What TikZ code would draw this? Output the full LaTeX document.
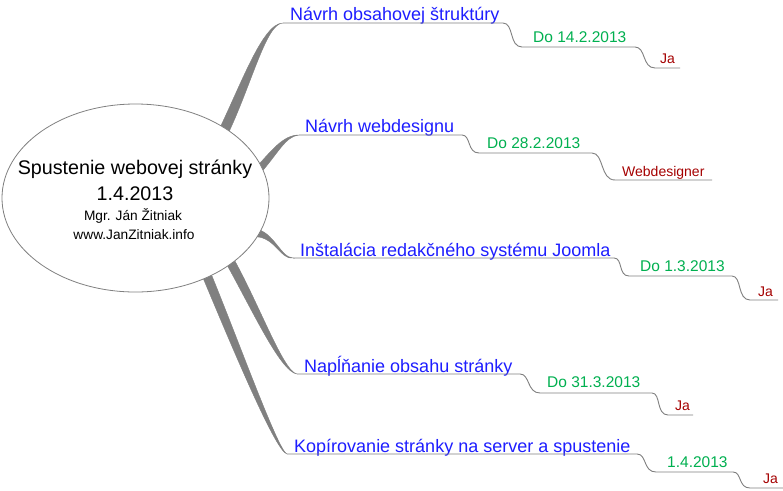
\documentclass[tikz,border=0pt]{standalone}
\usepackage{fontspec}
\setmainfont{Liberation Sans}
\usetikzlibrary{calc,shapes.geometric}
\definecolor{tblue}{RGB}{30,30,255}
\definecolor{tgreen}{RGB}{0,176,80}
\definecolor{tred}{RGB}{165,0,0}
\definecolor{lgray}{RGB}{128,128,128}
\tikzset{
  lvlone/.style={text=tblue,font=\fontsize{18}{20}\selectfont,inner sep=0pt,anchor=base west},
  lvltwo/.style={text=tgreen,font=\fontsize{15.5}{18}\selectfont,inner sep=0pt,anchor=base west},
  lvlthree/.style={text=tred,font=\fontsize{14}{16}\selectfont,inner sep=0pt,anchor=base west},
  connector/.style={draw=lgray,line width=0.9pt},
  branchfill/.style={fill=lgray,draw=lgray,line width=0.4pt},
  centre/.style={inner sep=0pt,anchor=base,text=black}
}
\newcommand{\mybranch}[6]{%
  \path[branchfill] (#1) .. controls (#2) and (#3) .. (#4)
     .. controls ($(#3)+(#5/3,#6/3)$) and ($(#2)+(#5,#6)$) .. ($(#1)+(#5,#6)$) -- cycle;}
\begin{document}
\begin{tikzpicture}[x=1pt,y=-1pt]
\useasboundingbox (0,0) rectangle (783,490);
\fill[white] (0,0) rectangle (783,490);

% branch end points
\coordinate (b1) at (283,23);
\coordinate (b2) at (299,135);
\coordinate (b3) at (293,258);
\coordinate (b4) at (297,374);
\coordinate (b5) at (287,454);

% tapered branches
\mybranch{214,140}{240,88}{262,23}{b1}{11}{0}
\mybranch{252,172}{272,150}{283,135}{b2}{6}{4}
\mybranch{250,229}{272,226}{280,258}{b3}{2}{8}
\mybranch{222,256}{250,305}{280,372}{b4}{9}{-2}
\mybranch{198,266}{225,330}{275,452}{b5}{9}{-2}

% central topic
\node[ellipse,draw=lgray,fill=white,line width=0.8pt,minimum width=267pt,minimum height=188pt,inner sep=0pt] (root) at (135.5,198) {};
\node[centre,font=\fontsize{19.7}{22}\selectfont] (title) at (135,174) {Spustenie webovej stránky};
\node[centre,font=\fontsize{19.7}{22}\selectfont] (rdate) at (135,200) {1.4.2013};
\node[centre,font=\fontsize{13.7}{16}\selectfont] (author) at (133,220) {Mgr. Ján Žitniak};
\node[centre,font=\fontsize{13.7}{16}\selectfont] (web) at (134,239) {www.JanZitniak.info};

% branch 1
\node[lvlone] (t1) at (290,20) {Návrh obsahovej štruktúry};
\node[lvltwo] (d1) at (533,42) {Do 14.2.2013};
\node[lvlthree] (p1) at (660,63) {Ja};
\coordinate (e1) at (680,68);
\draw[connector] (b1) -- (503,23) .. controls (514,23) and (509,47) .. (522,47) -- (635,47)
  .. controls (646,47) and (642,68) .. (655,68) -- (e1);

% branch 2
\node[lvlone] (t2) at (305,132) {Návrh webdesignu};
\node[lvltwo] (d2) at (487,148) {Do 28.2.2013};
\node[lvlthree] (p2) at (622,176) {Webdesigner};
\coordinate (e2) at (712,180);
\draw[connector] (b2) -- (462,135) .. controls (471,135) and (467,153) .. (479,153) -- (592,153)
  .. controls (604,153) and (600,180) .. (615,180) -- (e2);

% branch 3
\node[lvlone] (t3) at (300,256) {Inštalácia redakčného systému Joomla};
\node[lvltwo] (d3) at (640,271) {Do 1.3.2013};
\node[lvlthree] (p3) at (758,296) {Ja};
\coordinate (e3) at (778,300);
\draw[connector] (b3) -- (614,258) .. controls (623,258) and (618,276) .. (629,276) -- (732,276)
  .. controls (742,276) and (737,300) .. (750,300) -- (e3);

% branch 4
\node[lvlone] (t4) at (304,372) {Napĺňanie obsahu stránky};
\node[lvltwo] (d4) at (547,387) {Do 31.3.2013};
\node[lvlthree] (p4) at (675,410) {Ja};
\coordinate (e4) at (693,415);
\draw[connector] (b4) -- (520,374) .. controls (530,374) and (527,393) .. (540,393) -- (652,393)
  .. controls (661,393) and (656,415) .. (668,415) -- (e4);

% branch 5
\node[lvlone] (t5) at (294,452) {Kopírovanie stránky na server a spustenie};
\node[lvltwo] (d5) at (667,467) {1.4.2013};
\node[lvlthree] (p5) at (763,483) {Ja};
\coordinate (e5) at (783,488);
\draw[connector] (b5) -- (637,454) .. controls (647,454) and (643,472) .. (656,472) -- (733,472)
  .. controls (742,472) and (738,488) .. (750,488) -- (e5);
\end{tikzpicture}
\end{document}
